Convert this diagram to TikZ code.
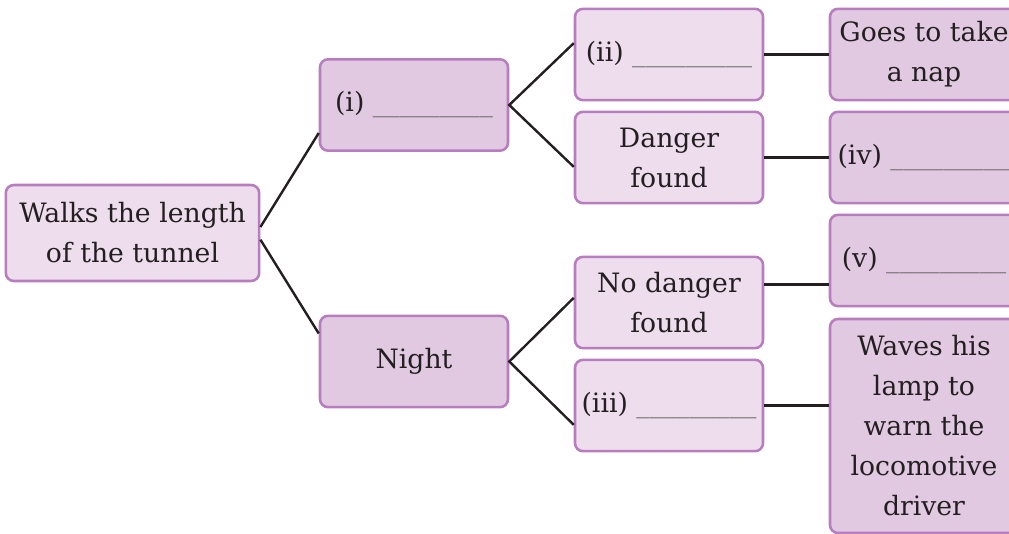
\documentclass[tikz,border=0pt]{standalone}
\usepackage{fontspec}
\setmainfont{DejaVu Serif}
\usetikzlibrary{calc}
\definecolor{boxline}{RGB}{183,125,191}
\definecolor{lightfill}{RGB}{237,221,237}
\definecolor{darkfill}{RGB}{225,202,225}
\definecolor{linkcol}{RGB}{35,31,32}
\definecolor{blankcol}{RGB}{110,110,110}
\newcommand{\blank}{\textcolor{blankcol}{\_\_\_\_\_\_\_\_\_}}

\begin{document}
\begin{tikzpicture}[x=0.75pt, y=-0.75pt,
		box/.style={draw=boxline, line width=1.9pt, rounded corners=6pt, align=center, inner sep=0pt, font=\fontsize{20}{30}\selectfont, text=linkcol, minimum width=141pt, minimum height=68.5pt},
		lightbox/.style={box, fill=lightfill},
		darkbox/.style={box, fill=darkfill},
		link/.style={draw=linkcol, line width=1.8pt}]
			%%%%% START %%%%%
			
			\useasboundingbox (0, 0) rectangle (1009, 534);
			\clip (0, 0) rectangle (1009, 534);
			
			\node[lightbox, minimum width=190pt, minimum height=72pt] (walks) at (132.5, 233) {Walks the length\\of the tunnel};
			
			\node[darkbox] (first) at (414, 105) {(i) \blank};
			\node[darkbox] (night) at (414, 361.5) {Night};
			
			\node[lightbox] (second) at (669, 54.5) {(ii) \blank};
			\node[lightbox] (danger) at (669, 157.5) {Danger\\found};
			\node[lightbox] (nodanger) at (669, 302.5) {No danger\\found};
			\node[lightbox] (third) at (669, 405.5) {(iii) \blank};
			
			\node[darkbox] (nap) at (924, 54.5) {Goes to take\\a nap};
			\node[darkbox] (fourth) at (924, 157.5) {(iv) \blank};
			\node[darkbox] (fifth) at (924, 260.5) {(v) \blank};
			\node[darkbox, minimum height=160.5pt] (waves) at (924, 426) {Waves his\\lamp to\\warn the\\locomotive\\driver};
			
			\draw[link] ([yshift=4.5pt]walks.east) -- ([yshift=-21pt]first.west);
			\draw[link] ([yshift=-5pt]walks.east) -- ([yshift=21pt]night.west);
			
			\draw[link] ([yshift=8.5pt]second.west) -- (first.east) -- ([yshift=-7pt]danger.west);
			\draw[link] ([yshift=3.5pt]nodanger.west) -- (night.east) -- ([yshift=-14.5pt]third.west);
			
			\draw[link] (second) -- (nap);
			\draw[link] (danger) -- (fourth);
			\coordinate (nodangerout) at ([yshift=13.6pt]nodanger.east);
			\draw[link] (nodangerout) -- (nodangerout -| fifth.west);
			\draw[link] (third) -- (third -| waves.west);
			
			%%%%% END %%%%%
		\end{tikzpicture}
\end{document}
